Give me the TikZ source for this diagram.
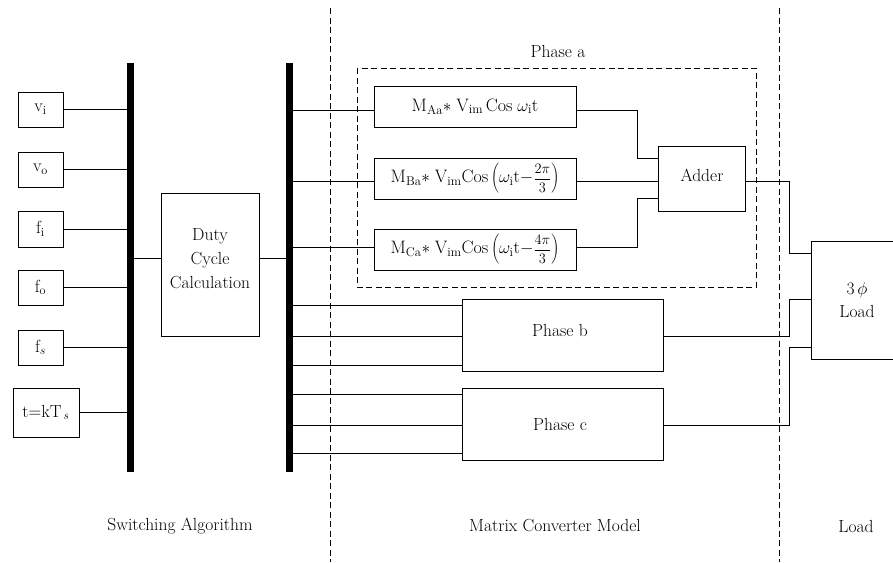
\documentclass[tikz,border=0pt]{standalone}
\usepackage{fontspec}
\newcommand{\frc}[2]{\mbox{\fontsize{15}{15}\selectfont$\displaystyle\frac{#1}{#2}$}}
\begin{document}
\begin{tikzpicture}[x=1pt,y=-1pt,
  every node/.style={font=\fontsize{17.5}{21}\selectfont},
  box/.style={draw, line width=0.9pt, inner sep=0pt},
  fbox/.style={box, font=\fontsize{18}{21}\selectfont},
  bar/.style={fill=black, inner sep=0pt, minimum width=7, minimum height=409},
  wire/.style={line width=0.9pt},
  sep/.style={line width=0.9pt, dash pattern=on 6pt off 3.5pt},
  lbl/.style={inner sep=0pt}]
\useasboundingbox (0,0) rectangle (893,562);
% bars
\node[bar] (lbar) at (130.5,267.5) {};
\node[bar] (rbar) at (289.5,267.5) {};
% inputs
\node[box, minimum width=45, minimum height=35] (vi) at (40.5,109.5) {v$_{\mathrm{i}}$};
\node[box, minimum width=45, minimum height=35] (vo) at (40.5,169.5) {v$_{\mathrm{o}}$};
\node[box, minimum width=45, minimum height=36] (fi) at (40.5,229) {f$_{\mathrm{i}}$};
\node[box, minimum width=45, minimum height=35] (fo) at (40.5,287.5) {f$_{\mathrm{o}}$};
\node[box, minimum width=45, minimum height=35] (fs) at (40.5,347.5) {f$_{s}$};
\node[box, minimum width=66, minimum height=49] (tk) at (46,412.5) {t=kT$_{\,s}$};
\foreach \n in {vi,vo,fi,fo,fs,tk} \draw[wire] (\n.east) -- (\n.east -| lbar.west);
% duty cycle
\node[box, minimum width=98, minimum height=143] (duty) at (210,264.5) {};
\node[lbl, align=center, font=\fontsize{17.5}{24}\selectfont] (dutyt) at (210,259) {Duty\\Cycle\\Calculation};
\coordinate (dy) at (0,258);
\draw[wire] (lbar.east |- dy) -- (duty.west |- dy);
\draw[wire] (duty.east |- dy) -- (rbar.west |- dy);
% phase a
\node[fbox, minimum width=202, minimum height=41] (aa) at (475,106.5) {$\mathrm{M}_{\mathrm{Aa}}{*}\;\mathrm{V}_{\mathrm{im}}\,\mathrm{Cos}\;\omega_{\mathrm{i}}\mathrm{t}$};
\node[fbox, minimum width=202, minimum height=41] (ba) at (475,178.5) {$\mathrm{M}_{\mathrm{Ba}}{*}\;\mathrm{V}_{\mathrm{im}}\mathrm{Cos}\left(\omega_{\mathrm{i}}\mathrm{t}{-}\frc{2\pi}{3}\right)$};
\node[fbox, minimum width=202, minimum height=41] (ca) at (475,249.5) {$\mathrm{M}_{\mathrm{Ca}}{*}\;\mathrm{V}_{\mathrm{im}}\mathrm{Cos}\left(\omega_{\mathrm{i}}\mathrm{t}{-}\frc{4\pi}{3}\right)$};
\node[box, minimum width=87, minimum height=65] (adder) at (701.5,178.5) {};
\node[lbl] (addert) at (702,175) {Adder};
\node[lbl] (phaseal) at (558,51) {Phase a};
\draw[sep] (357,68) rectangle (756,287);
\coordinate (ya) at (0,110);
\coordinate (yb) at (0,181);
\coordinate (yc) at (0,247);
\draw[wire] (rbar.east |- ya) -- (aa.west |- ya);
\draw[wire] (rbar.east |- yb) -- (ba.west |- yb);
\draw[wire] (rbar.east |- yc) -- (ca.west |- yc);
\coordinate (ja) at (637,158);
\coordinate (jc) at (637,198);
\draw[wire] (aa.east |- ya) -| (ja) -- (adder.west |- ja);
\draw[wire] (ba.east |- yb) -- (adder.west |- yb);
\draw[wire] (ca.east |- yc) -| (jc) -- (adder.west |- jc);
% phase b, c
\node[box, minimum width=201, minimum height=72] (pb) at (562.5,335) {};
\node[lbl] (pbt) at (560,330) {Phase b};
\node[box, minimum width=201, minimum height=72] (pc) at (562.5,424) {};
\node[lbl] (pct) at (560,424) {Phase c};
\foreach \yy in {305,336,365} {\coordinate (t) at (0,\yy); \draw[wire] (rbar.east |- t) -- (pb.west |- t);}
\foreach \yy in {394,425,453} {\coordinate (t) at (0,\yy); \draw[wire] (rbar.east |- t) -- (pc.west |- t);}
% load
\node[box, minimum width=100, minimum height=118] (load) at (861,300) {};
\node[lbl, align=center, font=\fontsize{17.5}{23}\selectfont] (loadt) at (857,300) {3$\,\phi$\\Load};
\coordinate (l1) at (789,253);
\coordinate (l2) at (789,299);
\coordinate (l3) at (789,347);
\draw[wire] (adder.east |- yb) -| (l1) -- (load.west |- l1);
\coordinate (yo) at (0,336);
\draw[wire] (pb.east |- yo) -| (l2) -- (load.west |- l2);
\coordinate (yp) at (0,425);
\draw[wire] (pc.east |- yp) -| (l3) -- (load.west |- l3);
% separators
\draw[sep] (330,8) -- (330,562);
\draw[sep] (779,8) -- (779,562);
% section labels
\node[lbl] (s1) at (180,526) {Switching Algorithm};
\node[lbl] (s2) at (555,526) {Matrix Converter Model};
\node[lbl] (s3) at (856,526) {Load};
\end{tikzpicture}
\end{document}
